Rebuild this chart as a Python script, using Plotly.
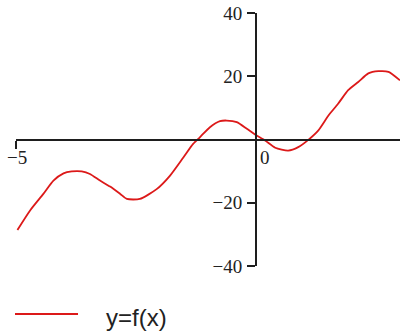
import plotly.graph_objects as go

# Data
x_vals = [-4.97, -4.71, -4.43, -4.22, -4.01, -3.84, -3.63, -3.46, -3.25, -3.04,
          -2.83, -2.69, -2.42, -2.07, -1.79, -1.51, -1.31, -1.17, -0.96, -0.75,
          -0.61, -0.40, -0.19, -0.02, 0.19, 0.40, 0.67, 0.88, 1.09, 1.30,
          1.51, 1.71, 1.92, 2.13, 2.34, 2.55, 2.76, 3.0]
y_vals = [-28.6, -22.5, -17.2, -13.0, -10.7, -10.1, -10.1, -10.9, -13.0, -14.9,
          -17.2, -18.8, -18.8, -15.7, -11.4, -5.6, -1.4, 0.7, 3.9, 5.8,
          6.0, 5.5, 3.4, 1.6, -0.3, -2.6, -3.5, -2.4, -0.1, 2.9,
          7.6, 11.3, 15.6, 18.2, 20.9, 21.6, 21.4, 18.7]
series_name = "y=f(x)"

x_range = [-5, 3]
y_range = [-40, 40]
y_tickvals = [-40, -20, 20, 40]
y_ticktext = ["\u221240", "\u221220", "20", "40"]
x_tickvals = [-5, 0]
x_ticktext = ["\u22125", "0"]
x_label_xshift = [1, 9]

RED = "rgb(220,25,25)"
AX = "#1e1e1e"
tick_font = dict(family="Liberation Serif", size=19, color="#222222")

fig = go.Figure()
fig.add_trace(go.Scatter(x=x_vals, y=y_vals, mode="lines", name=series_name,
                         line=dict(color=RED, width=1.8, shape="spline", smoothing=0.6),
                         showlegend=False, hoverinfo="skip"))

ypos = (0 - x_range[0]) / (x_range[1] - x_range[0])
xpos = (0 - y_range[0]) / (y_range[1] - y_range[0])

fig.update_layout(
    width=401, height=334,
    margin=dict(l=16, r=1, t=13, b=68),
    paper_bgcolor="white", plot_bgcolor="white",
    xaxis=dict(range=x_range, anchor="free", position=xpos, showgrid=False, zeroline=False,
               showline=True, linecolor=AX, linewidth=2,
               tickmode="array", tickvals=x_tickvals, showticklabels=False,
               ticks="outside", ticklen=8, tickwidth=2, tickcolor=AX, fixedrange=True),
    xaxis2=dict(range=x_range, anchor="free", position=xpos, overlaying="x", side="top",
                showgrid=False, zeroline=False, showline=False,
                tickmode="array", tickvals=x_tickvals, showticklabels=False,
                ticks="outside", ticklen=8, tickwidth=2, tickcolor=AX),
    yaxis=dict(range=y_range, anchor="free", position=ypos, showgrid=False, zeroline=False,
               showline=True, linecolor=AX, linewidth=2,
               tickmode="array", tickvals=y_tickvals, ticktext=y_ticktext,
               ticks="outside", ticklen=8, tickwidth=2, tickcolor=AX,
               tickfont=tick_font, ticklabelstandoff=1, fixedrange=True),
    yaxis2=dict(range=y_range, anchor="free", position=ypos, overlaying="y", side="right",
                showgrid=False, zeroline=False, showline=False,
                tickmode="array", tickvals=y_tickvals, showticklabels=False,
                ticks="outside", ticklen=8, tickwidth=2, tickcolor=AX),
    showlegend=False,
)

# x tick labels placed like the reference (below, slightly right of the tick)
for xv, txt, dx in zip(x_tickvals, x_ticktext, x_label_xshift):
    fig.add_annotation(text=txt, xref="x", yref="y", x=xv, y=0, showarrow=False,
                       xanchor="center", yanchor="middle", xshift=dx, yshift=-18,
                       font=tick_font)

# Manual legend (long line sample + label)
fig.add_shape(type="line", xref="paper", yref="paper",
              x0=-0.0026, x1=0.1615, y0=-0.19, y1=-0.19,
              line=dict(color=RED, width=2))
fig.add_annotation(text=series_name, xref="paper", yref="paper",
                   x=0.315, y=-0.205, showarrow=False,
                   font=dict(family="Liberation Sans", size=24, color="#222222"),
                   xanchor="center", yanchor="middle")

fig.write_html("out.html", config={"displayModeBar": False},
               post_script="document.body.style.margin='0';document.body.style.padding='0';")
